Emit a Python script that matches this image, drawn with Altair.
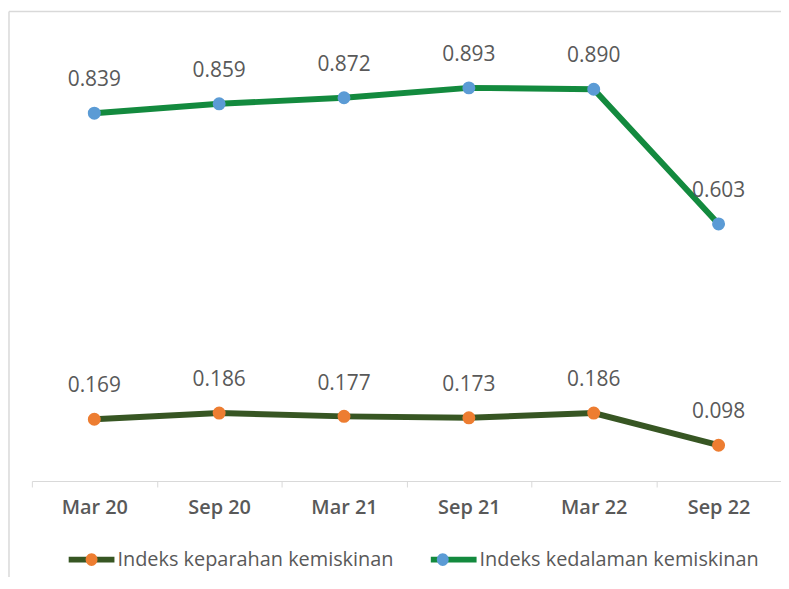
import altair as alt
import pandas as pd

periods = ["Mar 20", "Sep 20", "Mar 21", "Sep 21", "Mar 22", "Sep 22"]
kedalaman = [0.839, 0.859, 0.872, 0.893, 0.890, 0.603]
keparahan = [0.169, 0.186, 0.177, 0.173, 0.186, 0.098]
series_names = ["Indeks keparahan kemiskinan", "Indeks kedalaman kemiskinan"]
marker_keys = ["m1", "m2"]
line_colors = ["#375623", "#138A3E"]
marker_colors = ["#ED7D31", "#5B9BD5"]

rows = []
for name, key, vals in [(series_names[0], marker_keys[0], keparahan), (series_names[1], marker_keys[1], kedalaman)]:
    for p, v in zip(periods, vals):
        rows.append({"period": p, "series": name, "marker": key, "value": v, "label": f"{v:.3f}"})
df = pd.DataFrame(rows)

FONT = "Open Sans"
GRAY = "#595959"

x_enc = alt.X(
    "period:N",
    sort=periods,
    scale=alt.Scale(type="band", paddingInner=0, paddingOuter=0),
    axis=alt.Axis(
        title=None,
        tickBand="extent",
        labelAngle=0,
        domainColor="#D9D9D9",
        tickColor="#D9D9D9",
        tickSize=6,
        labelPadding=11,
        labelFontSize=20,
        labelFontWeight=600,
        labelColor=GRAY,
        labelFont=FONT,
        grid=False,
    ),
)

legend_common = dict(
    title=None,
    orient="none",
    direction="horizontal",
    legendX=34,
    legendY=501,
    symbolSize=2116,
    symbolStrokeWidth=6,
    labelFont=FONT,
    labelFontSize=20,
    labelColor=GRAY,
    labelOffset=0,
    labelLimit=0,
)

BOX = "M-1,-1M1,1"

color_enc = alt.Color(
    "series:N",
    scale=alt.Scale(domain=series_names, range=line_colors),
    legend=alt.Legend(
        symbolType=BOX + "M-1,0L1,0",
        columnPadding=25,
        zindex=1,
        **legend_common,
    ),
)

fill_enc = alt.Fill(
    "marker:N",
    scale=alt.Scale(domain=marker_keys, range=marker_colors),
    legend=alt.Legend(
        symbolType=BOX + "M0.26,0A0.26,0.28 0 1,1 -0.26,0A0.26,0.28 0 1,1 0.26,0Z",
        symbolStrokeColor="transparent",
        symbolOpacity=1,
        labelExpr="''",
        columnPadding=283,
        zindex=2,
        **legend_common,
    ),
)


def series_layer(name, domain):
    base = alt.Chart(df).transform_filter(alt.datum.series == name).encode(
        x=x_enc,
        y=alt.Y("value:Q", scale=alt.Scale(domain=domain, zero=False, nice=False), axis=None),
    )
    line = base.mark_line(strokeWidth=6).encode(color=color_enc)
    pts = base.mark_point(filled=True, shape="circle", size=170, opacity=1, strokeWidth=0).encode(fill=fill_enc)
    txt = base.mark_text(dy=-33, fontSize=21, fontWeight=500, font=FONT, color=GRAY).encode(text="label:N")
    return alt.layer(line, pts, txt)


upper = series_layer(series_names[1], [0.055, 1.005])
lower = series_layer(series_names[0], [0.0, 1.22])

frame_df = pd.DataFrame({"k": [0]})
frame_v = alt.Chart(frame_df).mark_rule(color="#D9D9D9", strokeWidth=1.5).encode(
    x=alt.value(-23), y=alt.value(-24), y2=alt.value(560)
)
frame_h = alt.Chart(frame_df).mark_rule(color="#D9D9D9", strokeWidth=1.5).encode(
    x=alt.value(-23), x2=alt.value(770), y=alt.value(-24)
)

chart = (
    alt.layer(frame_v, frame_h, upper, lower)
    .resolve_scale(y="independent")
    .properties(
        width=753,
        height=448,
        padding={"left": 24, "top": 26, "right": 0, "bottom": 95},
        autosize=alt.AutoSizeParams(type="none"),
        background="white",
    )
    .configure_view(stroke=None)
)

chart.save("out.html", embed_options={"renderer": "svg", "actions": False})
